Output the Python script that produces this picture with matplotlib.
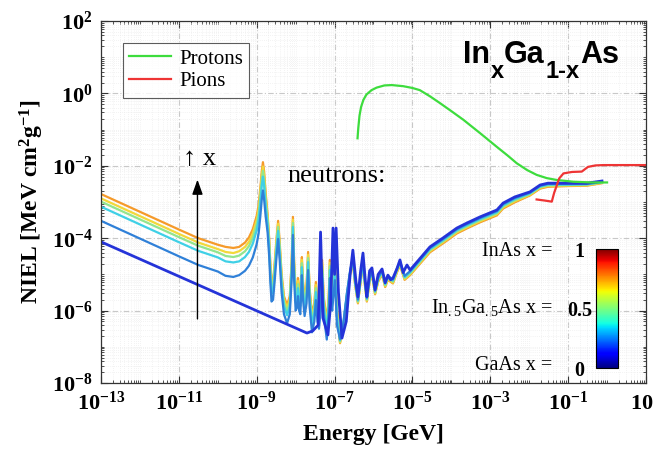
import numpy as np
import matplotlib
matplotlib.use("Agg")
import matplotlib.pyplot as plt
import matplotlib as mpl
from matplotlib.ticker import FixedLocator, NullFormatter, FuncFormatter

# ---------------- data (log10 values) ----------------
X_TICK_EXP = [-13, -11, -9, -7, -5, -3, -1, 1]
Y_TICK_EXP = [-8, -6, -4, -2, 0, 2]

# In-containing alloys: low energy + resonance part (log10 E [GeV])
IN_LOGE = [-13.0, -12.0, -11.0, -10.5, -10.0, -9.8, -9.6, -9.45, -9.3, -9.2,
           -9.1, -9.0, -8.95, -8.91, -8.87, -8.84, -8.81, -8.77, -8.72, -8.68,
           -8.65, -8.62, -8.58, -8.54, -8.49, -8.45, -8.41, -8.36, -8.30, -8.22,
           -8.15, -8.10, -8.07, -8.04, -8.00, -7.96, -7.94, -7.91, -7.88, -7.86,
           -7.84, -7.81, -7.77, -7.72, -7.68, -7.64, -7.58, -7.52, -7.48, -7.44,
           -7.40, -7.35, -7.32, -7.28, -7.20, -7.15, -7.12, -7.09, -7.06, -7.03,
           -6.99, -6.94, -6.86, -6.78, -6.68, -6.60, -6.53, -6.47, -6.40, -6.33,
           -6.27, -6.22, -6.17, -6.10, -6.04, -5.96, -5.88, -5.78, -5.70, -5.63,
           -5.50, -5.40, -5.32, -5.20, -5.06]
IN_X10_LOGY = [-2.78, -3.27, -3.76, -4.00, -4.18, -4.24, -4.27, -4.24, -4.12, -3.98,
               -3.75, -3.38, -3.08, -2.65, -2.15, -1.90, -2.15, -2.75, -3.35, -4.00,
               -4.70, -5.25, -5.20, -4.70, -4.00, -3.52, -4.10, -5.00, -5.60, -5.85,
               -5.60, -4.60, -3.41, -4.60, -5.50, -5.40, -5.10, -5.50, -5.60, -5.10,
               -4.52, -5.20, -5.65, -5.30, -4.38, -5.40, -6.10, -5.80, -5.21, -5.80,
               -6.00, -5.40, -4.60, -5.60, -6.30, -5.60, -4.60, -5.30, -5.50, -5.10,
               -4.66, -5.90, -6.90, -6.50, -5.60, -5.00, -4.65, -5.30, -5.80, -5.20,
               -4.70, -5.30, -5.75, -5.20, -5.00, -5.55, -5.20, -5.00, -5.35, -5.15,
               -5.25, -4.95, -4.75, -5.15, -5.02]
IN_X08_LOGY = [-2.90, -3.39, -3.88, -4.12, -4.30, -4.38, -4.41, -4.36, -4.24, -4.10,
               -3.87, -3.50, -3.20, -2.77, -2.27, -2.02, -2.27, -2.85, -3.43, -4.08,
               -4.78, -5.33, -5.28, -4.78, -4.08, -3.60, -4.18, -5.08, -5.68, -5.93,
               -5.68, -4.68, -3.49, -4.68, -5.58, -5.48, -5.18, -5.58, -5.68, -5.18,
               -4.60, -5.28, -5.73, -5.38, -4.46, -5.48, -6.18, -5.88, -5.29, -5.88,
               -6.08, -5.48, -4.68, -5.68, -6.38, -5.68, -4.68, -5.38, -5.58, -5.18,
               -4.74, -5.98, -6.88, -6.48, -5.58, -4.98, -4.63, -5.28, -5.78, -5.18,
               -4.68, -5.28, -5.73, -5.18, -4.98, -5.53, -5.18, -4.98, -5.33, -5.13,
               -5.23, -4.93, -4.73, -5.13, -5.00]
IN_X06_LOGY = [-2.99, -3.48, -3.97, -4.21, -4.39, -4.49, -4.52, -4.48, -4.36, -4.22,
               -3.99, -3.62, -3.32, -2.89, -2.39, -2.14, -2.39, -2.97, -3.52, -4.17,
               -4.87, -5.42, -5.37, -4.87, -4.17, -3.69, -4.27, -5.17, -5.77, -6.02,
               -5.77, -4.77, -3.58, -4.77, -5.67, -5.57, -5.27, -5.67, -5.77, -5.27,
               -4.69, -5.37, -5.82, -5.47, -4.55, -5.57, -6.27, -5.97, -5.38, -5.97,
               -6.17, -5.57, -4.77, -5.77, -6.47, -5.77, -4.77, -5.47, -5.67, -5.27,
               -4.83, -6.07, -6.85, -6.45, -5.55, -4.95, -4.60, -5.25, -5.75, -5.15,
               -4.65, -5.25, -5.70, -5.15, -4.95, -5.50, -5.15, -4.95, -5.30, -5.10,
               -5.20, -4.90, -4.70, -5.10, -4.97]
IN_X04_LOGY = [-3.13, -3.62, -4.11, -4.35, -4.53, -4.64, -4.67, -4.64, -4.52, -4.38,
               -4.15, -3.78, -3.48, -3.05, -2.55, -2.30, -2.55, -3.10, -3.63, -4.28,
               -4.98, -5.53, -5.48, -4.98, -4.28, -3.80, -4.38, -5.28, -5.88, -6.13,
               -5.88, -4.88, -3.69, -4.88, -5.78, -5.68, -5.38, -5.78, -5.88, -5.38,
               -4.80, -5.48, -5.93, -5.58, -4.66, -5.68, -6.38, -6.08, -5.49, -6.08,
               -6.28, -5.68, -4.88, -5.88, -6.58, -5.88, -4.88, -5.58, -5.78, -5.38,
               -4.94, -6.18, -6.82, -6.42, -5.52, -4.92, -4.57, -5.22, -5.72, -5.12,
               -4.62, -5.22, -5.67, -5.12, -4.92, -5.47, -5.12, -4.92, -5.27, -5.07,
               -5.17, -4.87, -4.67, -5.07, -4.94]
IN_X02_LOGY = [-3.52, -4.01, -4.50, -4.74, -4.92, -5.04, -5.07, -5.02, -4.90, -4.76,
               -4.53, -4.16, -3.86, -3.43, -2.93, -2.68, -2.93, -3.40, -3.85, -4.50,
               -5.20, -5.75, -5.70, -5.20, -4.50, -4.02, -4.60, -5.50, -6.10, -6.35,
               -6.10, -5.10, -3.91, -5.10, -6.00, -5.90, -5.60, -6.00, -6.10, -5.60,
               -5.02, -5.70, -6.15, -5.80, -4.88, -5.90, -6.60, -6.30, -5.71, -6.30,
               -6.50, -5.90, -5.10, -6.10, -6.80, -6.10, -5.10, -5.80, -6.00, -5.60,
               -5.16, -6.40, -6.79, -6.39, -5.49, -4.89, -4.54, -5.19, -5.69, -5.09,
               -4.59, -5.19, -5.64, -5.09, -4.89, -5.44, -5.09, -4.89, -5.24, -5.04,
               -5.14, -4.84, -4.64, -5.04, -4.91]

# GaAs (x = 0): low energy + resonance part
GAAS_LOGE = [-13.0, -7.71, -7.56, -7.42, -7.36, -7.30, -7.17, -7.10, -7.04, -7.00,
             -6.96, -6.90, -6.81, -6.70, -6.60, -6.53, -6.45, -6.40, -6.33, -6.27,
             -6.20, -6.17, -6.10, -6.04, -5.96, -5.88, -5.78, -5.70, -5.63, -5.56,
             -5.50, -5.40, -5.32, -5.24, -5.14, -5.06]
GAAS_LOGY = [-4.10, -6.62, -6.56, -6.40, -3.83, -6.20, -6.67, -5.80, -3.72, -5.00,
             -3.72, -5.50, -6.76, -6.30, -5.00, -4.33, -5.20, -5.62, -4.90, -4.41,
             -5.30, -5.62, -4.90, -4.82, -5.43, -5.00, -4.85, -5.23, -5.02, -5.15,
             -5.10, -4.85, -4.60, -4.95, -4.74, -4.88]

# smooth high-energy part, shared energies
HE_LOGE = [-4.55, -4.21, -3.86, -3.60, -3.26, -2.83, -2.67, -2.37, -1.98, -1.72,
           -1.52, -1.03, -0.52, -0.13]
HE_X00_LOGY = [-4.24, -3.99, -3.72, -3.58, -3.41, -3.22, -3.03, -2.86, -2.72, -2.53,
               -2.48, -2.48, -2.48, -2.42]
HE_X02_LOGY = [-4.27, -4.02, -3.75, -3.61, -3.44, -3.25, -3.06, -2.89, -2.74, -2.55,
               -2.50, -2.50, -2.50, -2.44]
HE_X04_LOGY = [-4.30, -4.05, -3.78, -3.64, -3.47, -3.28, -3.09, -2.92, -2.76, -2.57,
               -2.52, -2.52, -2.51, -2.45]
HE_X06_LOGY = [-4.33, -4.08, -3.81, -3.67, -3.50, -3.31, -3.12, -2.95, -2.78, -2.59,
               -2.54, -2.53, -2.52, -2.46]
HE_X08_LOGY = [-4.36, -4.11, -3.84, -3.70, -3.53, -3.34, -3.15, -2.98, -2.80, -2.61,
               -2.56, -2.55, -2.54, -2.47]
HE_X10_LOGY = [-4.39, -4.14, -3.87, -3.73, -3.56, -3.37, -3.18, -3.01, -2.82, -2.63,
               -2.58, -2.56, -2.55, -2.48]

PROTON_LOGE = [-6.41, -6.39, -6.36, -6.32, -6.26, -6.18, -6.05, -5.92, -5.72, -5.53,
               -5.24, -5.00, -4.81, -4.55, -4.29, -4.00, -3.69, -3.26, -2.84, -2.55,
               -2.32, -2.05, -1.81, -1.55, -1.30, -0.87, -0.40, 0.0]
PROTON_LOGY = [-1.24, -0.95, -0.62, -0.38, -0.18, -0.03, 0.09, 0.16, 0.22, 0.23,
               0.20, 0.15, 0.09, -0.08, -0.27, -0.49, -0.73, -1.10, -1.47, -1.72,
               -1.93, -2.12, -2.25, -2.34, -2.39, -2.44, -2.46, -2.46]

PION_LOGE = [-1.81, -1.60, -1.42, -1.36, -1.23, -1.12, -0.90, -0.65, -0.49, -0.30, -0.10, 1.0]
PION_LOGY = [-2.93, -2.96, -2.99, -2.75, -2.35, -2.21, -2.17, -2.16, -2.03, -1.99, -1.98, -1.98]

# ---------------- styling ----------------
plt.rcParams['font.family'] = ['Liberation Serif', 'DejaVu Serif']
plt.rcParams['mathtext.fontset'] = 'custom'
plt.rcParams['mathtext.rm'] = 'Liberation Serif'
plt.rcParams['mathtext.it'] = 'Liberation Serif:italic'
plt.rcParams['mathtext.bf'] = 'Liberation Serif:bold'
plt.rcParams['axes.unicode_minus'] = True

FW, FH = 654, 449
fig = plt.figure(figsize=(6.54, 4.49), dpi=100)
ax = fig.add_axes([0.15443, 0.14699, 0.83333, 0.80624])


def p10(a):
    return 10.0 ** np.asarray(a)


neutron_sets = [
    (IN_X10_LOGY, HE_X10_LOGY, '#f59a2a'),
    (IN_X08_LOGY, HE_X08_LOGY, '#f2d83a'),
    (IN_X06_LOGY, HE_X06_LOGY, '#92e58e'),
    (IN_X04_LOGY, HE_X04_LOGY, '#3fd0e6'),
    (IN_X02_LOGY, HE_X02_LOGY, '#2f80d8'),
]
for low, high, col in neutron_sets:
    ax.plot(p10(IN_LOGE + HE_LOGE), p10(low + high), color=col, lw=1.6,
            solid_joinstyle='round')
ax.plot(p10(GAAS_LOGE + HE_LOGE), p10(GAAS_LOGY + HE_X00_LOGY), color='#2433d8',
        lw=2.0, solid_joinstyle='round')

lp, = ax.plot(p10(PROTON_LOGE), p10(PROTON_LOGY), color='#3ddc3d', lw=1.6, label='Protons')
lpi, = ax.plot(p10(PION_LOGE), p10(PION_LOGY), color='#ee3434', lw=1.6, label='Pions')

ax.set_xscale('log')
ax.set_yscale('log')
ax.set_xlim(1e-13, 1e1)
ax.set_ylim(1e-8, 1e2)

xmaj = [10.0 ** e for e in X_TICK_EXP]
ymaj = [10.0 ** e for e in Y_TICK_EXP]
ax.xaxis.set_major_locator(FixedLocator(xmaj))
ax.yaxis.set_major_locator(FixedLocator(ymaj))
xmin_t = [m * 10.0 ** e for e in range(-13, 1) for m in range(1, 10)
          if not (m == 1 and e in X_TICK_EXP)]
ymin_t = [m * 10.0 ** e for e in range(-8, 2) for m in range(1, 10)
          if not (m == 1 and e in Y_TICK_EXP)]
ax.xaxis.set_minor_locator(FixedLocator(xmin_t))
ax.yaxis.set_minor_locator(FixedLocator(ymin_t))
ax.xaxis.set_minor_formatter(NullFormatter())
ax.yaxis.set_minor_formatter(NullFormatter())
fmt = FuncFormatter(lambda v, pos: r'$\mathdefault{10^{%d}}$' % int(round(np.log10(v))))
ax.xaxis.set_major_formatter(fmt)
ax.yaxis.set_major_formatter(fmt)

ax.tick_params(which='both', direction='in', top=True, right=True, color='#333333')
ax.tick_params(which='major', length=5, width=0.8, labelsize=16, pad=6)
ax.tick_params(which='minor', length=2.5, width=0.6)
for lab in ax.get_xticklabels() + ax.get_yticklabels():
    lab.set_fontweight('bold')

ax.grid(which='major', color='#c8c8c8', lw=0.8, linestyle=(0, (5, 2, 1, 2)))
ax.grid(which='minor', color='#e8e8e8', lw=0.5, linestyle=(0, (1, 2)))
ax.set_axisbelow(True)
for sp in ax.spines.values():
    sp.set_color('#333333')
    sp.set_linewidth(0.9)

ax.set_xlabel('Energy [GeV]', fontsize=17, fontweight='bold', labelpad=7)
ax.set_ylabel(r'NIEL [MeV cm$^{\mathdefault{2}}$g$^{\mathdefault{-1}}$]', fontsize=17,
              fontweight='bold', labelpad=4)

leg = ax.legend(handles=[lp, lpi], loc='upper left', bbox_to_anchor=(0.040, 0.940),
                fontsize=15, frameon=True, fancybox=False, edgecolor='#333333',
                handlelength=2.0, handletextpad=0.4, borderpad=0.3,
                labelspacing=0.15, borderaxespad=0.0)
leg.get_frame().set_linewidth(0.8)

# title In_x Ga_(1-x) As, laid out piece by piece
renderer = fig.canvas.get_renderer()
title_parts = [('In', 22, 0), ('x', 17, -15), ('Ga', 22, 0), ('1-x', 17, -15), ('As', 22, 0)]
xpos = 463.0
base = FH - 63.0
for s, size, dy in title_parts:
    t = fig.text(xpos / FW, (base + dy) / FH, s, fontsize=size, fontweight='bold',
                 family=['Liberation Sans', 'DejaVu Sans'], ha='left', va='baseline')
    xpos = t.get_window_extent(renderer).x1 + 0.5

ax.text(0.343, 0.555, 'neutrons:', transform=ax.transAxes, fontsize=19,
        ha='left', va='baseline')
ax.text(0.150, 0.602, '\u2191 x', transform=ax.transAxes, fontsize=19,
        family=['Liberation Serif', 'DejaVu Serif'], ha='left', va='baseline')
ax.annotate('', xy=(0.177, 0.562), xytext=(0.177, 0.177), xycoords='axes fraction',
            textcoords='axes fraction',
            arrowprops=dict(arrowstyle='-|>,head_length=0.9,head_width=0.32',
                            color='black', lw=1.0, shrinkA=0, shrinkB=0))

ax.text(0.828, 0.351, 'InAs x =', transform=ax.transAxes, fontsize=14.5,
        ha='right', va='baseline')
ax.text(0.828, 0.193, r'In$_{\mathdefault{.5}}$Ga$_{\mathdefault{.5}}$As x =',
        transform=ax.transAxes, fontsize=14.5, ha='right', va='baseline')
ax.text(0.828, 0.036, 'GaAs x =', transform=ax.transAxes, fontsize=14.5,
        ha='right', va='baseline')

# colorbar
cax = fig.add_axes([0.9113, 0.1804, 0.0336, 0.265])
cb = mpl.colorbar.ColorbarBase(cax, cmap=plt.get_cmap('jet'),
                               norm=mpl.colors.Normalize(0, 1), orientation='vertical')
cb.set_ticks([0, 0.5, 1])
cb.set_ticklabels(['0', '0.5', '1'])
cax.yaxis.set_ticks_position('left')
cax.tick_params(length=0, labelsize=14.5, pad=12)
for lab in cax.get_yticklabels():
    lab.set_fontweight('bold')
    lab.set_horizontalalignment('center')
cb.outline.set_linewidth(0.8)

fig.savefig('out.png', dpi=100)
